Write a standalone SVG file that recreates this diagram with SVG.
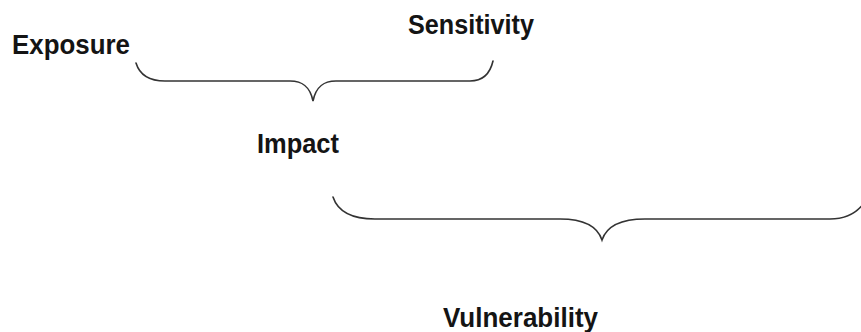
<svg xmlns="http://www.w3.org/2000/svg" width="861" height="332" viewBox="0 0 861 332">
<style>
.lbl{font-family:"Liberation Sans",Arial,sans-serif;font-weight:bold;font-size:28.5px;fill:#141414}
.brace{fill:none;stroke:#333;stroke-width:1.6;stroke-linecap:round}
</style>
<rect width="861" height="332" fill="#fff"/>
<g id="connectors">
<path class="brace" d="M136,63 C140,76 150,81 165,81 L290,81 C302,81 310,86 313,101 C316,86 324,81 336,81 L470,81 C482,81 490,74 493,61"/>
<path class="brace" d="M333,197 C338,212 352,219 375,219 L560,219 C582,219 597,225 602,240 C607,225 622,219 645,219 L830,219 C845,219 858,213 866,200"/>
</g>
<g id="exposure"><text class="lbl" x="12" y="54" textLength="118" lengthAdjust="spacingAndGlyphs">Exposure</text></g>
<g id="sensitivity"><text class="lbl" x="408" y="34" textLength="126" lengthAdjust="spacingAndGlyphs">Sensitivity</text></g>
<g id="impact"><text class="lbl" x="257" y="153" textLength="82" lengthAdjust="spacingAndGlyphs">Impact</text></g>
<g id="vulnerability"><text class="lbl" x="443" y="327" textLength="155" lengthAdjust="spacingAndGlyphs">Vulnerability</text></g>
</svg>
